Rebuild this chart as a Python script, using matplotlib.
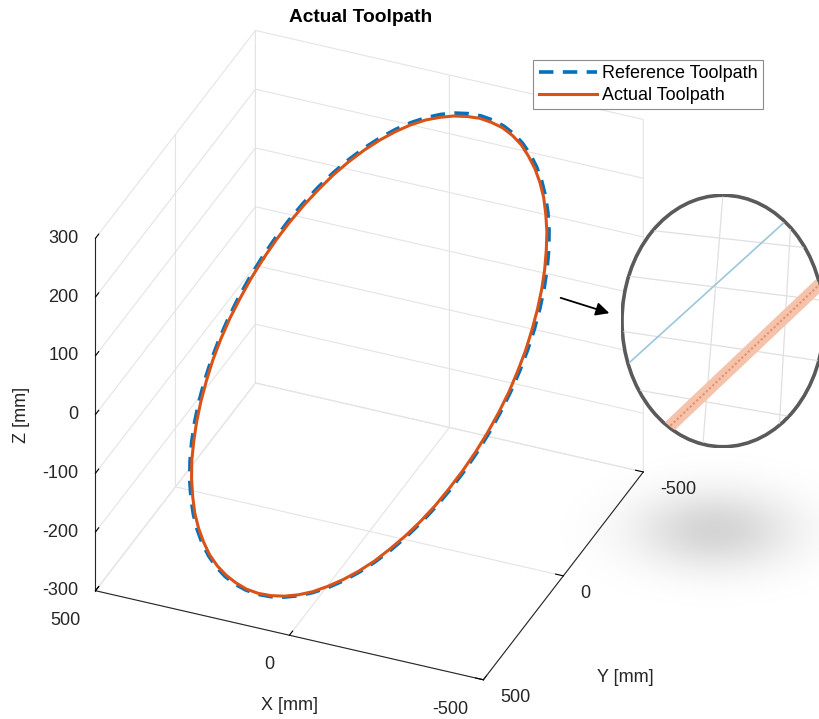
import numpy as np
import matplotlib.pyplot as plt
from matplotlib.patches import Ellipse, FancyArrowPatch
from mpl_toolkits.mplot3d import proj3d

plt.rcParams['font.family'] = ['Liberation Sans', 'DejaVu Sans']

# reference toolpath waypoints, 5 deg apart [mm]
ref_x = [400.0, 419.4, 435.6, 448.5, 458.0, 464.0, 466.4, 465.3, 460.7, 452.6, 441.0, 426.0,
         407.8, 386.6, 362.3, 335.4, 305.8, 274.0, 240.0, 204.2, 166.9, 128.3, 88.7, 48.5,
         7.8, -32.8, -73.3, -113.1, -152.1, -190.0, -226.4, -261.1, -293.8, -324.3, -352.2, -377.6,
         -400.0, -419.4, -435.6, -448.5, -458.0, -464.0, -466.4, -465.3, -460.7, -452.6, -441.0, -426.0,
         -407.8, -386.6, -362.3, -335.4, -305.8, -274.0, -240.0, -204.2, -166.9, -128.3, -88.7, -48.5,
         -7.8, 32.8, 73.3, 113.1, 152.1, 190.0, 226.4, 261.1, 293.8, 324.3, 352.2, 377.6, 400.0]
ref_y = [-300.0, -271.0, -239.9, -207.0, -172.5, -136.7, -99.8, -62.2, -24.1, 14.1, 52.3, 90.1,
         127.1, 163.2, 198.1, 231.5, 263.0, 292.6, 320.0, 344.9, 367.2, 386.8, 403.3, 416.8,
         427.1, 434.2, 438.0, 438.4, 435.5, 429.3, 419.8, 407.1, 391.4, 372.6, 351.0, 326.8,
         300.0, 271.0, 239.9, 207.0, 172.5, 136.7, 99.8, 62.2, 24.1, -14.1, -52.3, -90.1,
         -127.1, -163.2, -198.1, -231.5, -263.0, -292.6, -320.0, -344.9, -367.2, -386.8, -403.3, -416.8,
         -427.1, -434.2, -438.0, -438.4, -435.5, -429.3, -419.8, -407.1, -391.4, -372.6, -351.0, -326.8, -300.0]
ref_z = [0.0, -26.1, -52.1, -77.6, -102.6, -126.8, -150.0, -172.1, -192.8, -212.1, -229.8, -245.7,
         -259.8, -271.9, -281.9, -289.8, -295.4, -298.9, -300.0, -298.9, -295.4, -289.8, -281.9, -271.9,
         -259.8, -245.7, -229.8, -212.1, -192.8, -172.1, -150.0, -126.8, -102.6, -77.6, -52.1, -26.1,
         0.0, 26.1, 52.1, 77.6, 102.6, 126.8, 150.0, 172.1, 192.8, 212.1, 229.8, 245.7,
         259.8, 271.9, 281.9, 289.8, 295.4, 298.9, 300.0, 298.9, 295.4, 289.8, 281.9, 271.9,
         259.8, 245.7, 229.8, 212.1, 192.8, 172.1, 150.0, 126.8, 102.6, 77.6, 52.1, 26.1, 0.0]

# measured radial shortfall of the actual path at each waypoint [mm]
act_err = [6, 6, 6, 5, 5, 5, 6, 6, 6, 6, 5, 5,
           5, 4, 4, 4, 3, 3, 3, 3, 2, 2, 2, 2,
           2, 2, 3, 3, 3, 3, 4, 4, 4, 4, 5, 5,
           5, 5, 5, 5, 6, 6, 7, 7, 7, 7, 7, 6,
           6, 5, 5, 5, 5, 4, 4, 4, 5, 5, 6, 6,
           6, 5, 5, 5, 5, 5, 5, 5, 6, 6, 6, 6, 6]
path_radius = 500.0

act_x = [v * (1 - e / path_radius) for v, e in zip(ref_x, act_err)]
act_y = [v * (1 - e / path_radius) for v, e in zip(ref_y, act_err)]
act_z = [v * (1 - e / path_radius) for v, e in zip(ref_z, act_err)]

xy_ticks = [-500, 0, 500]
z_ticks = [-300, -200, -100, 0, 100, 200, 300]

# magnified detail (lens coordinates, 0..1)
lens_ref_u = [-0.05, 1.05]
lens_ref_v = [0.27, 1.07]
lens_act_u = [0.10, 1.10]
lens_act_v = [-0.02, 0.74]
lens_hgrid_v0 = [0.87, 0.68, 0.46, 0.24]   # at u = 0
lens_hgrid_v1 = [0.78, 0.58, 0.34, 0.10]   # at u = 1
lens_vgrid_u0 = [0.40, 0.77]               # at v = 0
lens_vgrid_u1 = [0.50, 0.84]               # at v = 1

BLUE = '#0072BD'
ORANGE = '#D95319'
INK = '#262626'
FS = 13

fig = plt.figure(figsize=(8.2, 7.19), dpi=100)

# soft shadow under the lens
sh = fig.add_axes([560 / 820, 1 - 620 / 719, 260 / 820, 180 / 719])
gx, gy = np.meshgrid(np.linspace(560, 820, 260), np.linspace(440, 620, 180))
alpha = 0.17 * np.exp(-((gx - 715) / 80) ** 2 - ((gy - 530) / 40) ** 2)
img = np.zeros(gx.shape + (4,))
img[..., 3] = alpha
sh.imshow(img, extent=(0, 1, 0, 1), aspect='auto', interpolation='bilinear')
sh.axis('off')

ax = fig.add_axes([0.009, 0.008, 0.86, 0.97], projection='3d')
ax.set_facecolor('none')
ax.set_proj_type('ortho')
ax.view_init(elev=33.1, azim=112.8)
ax.set_box_aspect((1.0, 0.981, 1.0), zoom=1.008)

ax.plot(ref_x, ref_y, ref_z, color=BLUE, lw=2.6, linestyle=(0, (4, 2.6)), label='Reference Toolpath')
ax.plot(act_x, act_y, act_z, color=ORANGE, lw=2.2, label='Actual Toolpath')

ax.set_xlim(-500, 500)
ax.set_ylim(-500, 500)
ax.set_zlim(-300, 300)
ax.set_xticks(xy_ticks)
ax.set_yticks(xy_ticks)
ax.set_zticks(z_ticks)
ax.zaxis.set_ticks_position('upper')

for axis in (ax.xaxis, ax.yaxis, ax.zaxis):
    axis.set_tick_params(labelbottom=False)
    axis.label.set_visible(False)
    axis.offsetText.set_visible(False)
    axis.set_pane_color((1, 1, 1, 0))
    axis.pane.set_edgecolor('#e4e4e4')
    axis._axinfo['grid'].update(color='#e4e4e4', linewidth=0.8)
    axis._axinfo['tick'].update(inward_factor=0.0, outward_factor=0.25)
    axis._axinfo['axisline'].update(color=INK, linewidth=0.8)
    axis.line.set_color(INK)

# tick labels: project the 3D anchor once the view is fixed, then place as 2D text
fig.canvas.draw()


def tick_label(x, y, z, s, **kw):
    px, py, _ = proj3d.proj_transform(x, y, z, ax.M)
    ax.text2D(px, py, s, transform=ax.transData, fontsize=FS, color=INK, **kw)


for t in xy_ticks:
    tick_label(t - 17, 635, -300, f'{t}', ha='right', va='center')
    tick_label(-567, t + 55, -300, f'{t}', ha='left', va='center')
for t in z_ticks:
    tick_label(537, 516, t, f'{t}', ha='right', va='center')

fig.text(290 / 820, 1 - 705 / 719, 'X [mm]', ha='center', va='center', fontsize=FS, color=INK)
fig.text(625 / 820, 1 - 678 / 719, 'Y [mm]', ha='center', va='center', fontsize=FS, color=INK)
fig.text(22 / 820, 1 - 415 / 719, 'Z [mm]', ha='center', va='center', fontsize=FS, color=INK,
         rotation=90)

leg = ax.legend(loc='upper right', bbox_to_anchor=(763 / 820, 1 - 60 / 719),
                bbox_transform=fig.transFigure, fancybox=False, framealpha=1,
                edgecolor='#8c8c8c', fontsize=FS, handlelength=3.2,
                borderpad=0.3, labelspacing=0.25, handletextpad=0.3, borderaxespad=0)
leg.get_frame().set_linewidth(0.8)

fig.text(361 / 820, 1 - 18 / 719, 'Actual Toolpath', ha='center', va='center',
         fontsize=13.8, fontweight='bold')

# magnifier lens
lens = fig.add_axes([621 / 820, 1 - 448 / 719, 204 / 820, 254 / 719])
lens.set_xlim(0, 1)
lens.set_ylim(0, 1)
lens.axis('off')
rim = Ellipse((0.5, 0.5), 0.99, 0.99, transform=lens.transAxes, facecolor='white',
              edgecolor='#5a5a5a', lw=2.6, zorder=1)
lens.add_patch(rim)
clip = Ellipse((0.5, 0.5), 0.98, 0.98, transform=lens.transAxes)
arts = []
for v0, v1 in zip(lens_hgrid_v0, lens_hgrid_v1):
    arts += lens.plot([0, 1], [v0, v1], color='#e0e0e0', lw=0.9, zorder=2)
for u0, u1 in zip(lens_vgrid_u0, lens_vgrid_u1):
    arts += lens.plot([u0, u1], [0, 1], color='#e0e0e0', lw=0.9, zorder=2)
arts += lens.plot(lens_ref_u, lens_ref_v, color='#9cc6dd', lw=1.2, zorder=3)
arts += lens.plot(lens_act_u, lens_act_v, color='#f5c3ab', lw=9, zorder=3, solid_capstyle='butt')
arts += lens.plot(lens_act_u, lens_act_v, color='#e7946e', lw=1.6, ls=(0, (1, 1)), zorder=4)
for a in arts:
    a.set_clip_path(clip)

fig.add_artist(FancyArrowPatch((558 / 820, 1 - 297 / 719), (612 / 820, 1 - 314 / 719),
                               transform=fig.transFigure, arrowstyle='-|>',
                               mutation_scale=20, color='black', lw=1.3))

fig.savefig('out.png', dpi=100, facecolor='white')
